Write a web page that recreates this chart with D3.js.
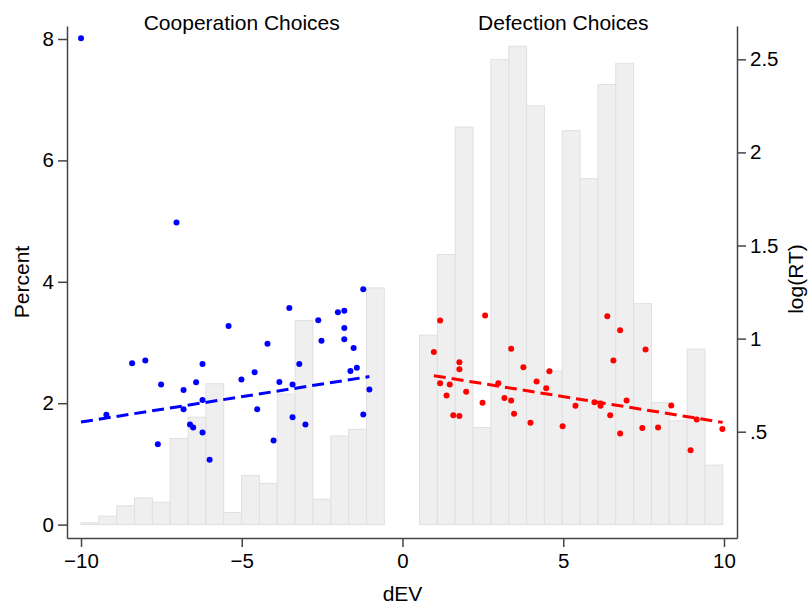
<!DOCTYPE html>
<html>
<head>
<meta charset="utf-8">
<script src="https://cdn.jsdelivr.net/npm/d3@7"></script>
<style>
  html, body { margin: 0; padding: 0; background: #fff; }
  svg { display: block; }
  text { font-family: "Liberation Sans", Arial, Helvetica, sans-serif; fill: #000; }
</style>
</head>
<body>
<svg id="chart" width="808" height="604"></svg>
<script>
// ---- data ----
const panelTitles = ["Cooperation Choices", "Defection Choices"];
const panelCenters = [-5, 5];

const binWidth = 0.555;
const coopBinStart = -10;
const defectBinStart = 0.529;
const coopPct = [0.03, 0.14, 0.31, 0.44, 0.37, 1.42, 1.77, 2.32, 0.20, 0.81, 0.68, 2.15, 3.36, 0.42, 1.46, 1.57, 3.90];
const defectPct = [3.12, 4.45, 6.55, 1.60, 7.66, 7.88, 6.90, 2.53, 6.49, 5.70, 7.25, 7.60, 3.64, 2.01, 1.71, 2.89, 0.98];

const coopDEV = [-10, -9.21, -8.41, -8.00, -7.51, -7.61, -7.03, -6.81, -6.81, -6.61, -6.51, -6.42, -6.22, -6.22, -6.22, -6.00, -5.41, -5.01, -4.60, -4.52, -4.20, -4.01, -3.83, -3.52, -3.42, -3.42, -3.21, -3.02, -2.62, -2.52, -2.01, -1.81, -1.81, -1.81, -1.52, -1.62, -1.42, -1.22, -1.22, -1.03];
const coopRT = [2.613, 0.591, 0.867, 0.882, 0.754, 0.432, 1.624, 0.724, 0.620, 0.538, 0.523, 0.765, 0.864, 0.670, 0.496, 0.349, 1.068, 0.781, 0.819, 0.620, 0.973, 0.453, 0.767, 1.165, 0.754, 0.577, 0.864, 0.538, 1.098, 0.989, 1.142, 1.149, 1.057, 0.996, 0.950, 0.826, 0.844, 1.265, 0.593, 0.726];

const defectDEV = [0.975, 1.17, 1.17, 1.47, 1.37, 1.58, 1.77, 1.77, 1.77, 1.98, 2.49, 2.57, 2.98, 3.17, 3.38, 3.38, 3.47, 3.76, 3.98, 4.17, 4.47, 4.57, 4.98, 5.38, 5.97, 6.16, 6.16, 6.37, 6.46, 6.56, 6.77, 6.77, 6.97, 7.46, 7.56, 7.95, 8.36, 8.96, 9.15, 9.95];
const defectRT = [0.928, 1.097, 0.760, 0.753, 0.695, 0.588, 0.584, 0.873, 0.835, 0.715, 0.656, 1.124, 0.760, 0.681, 0.946, 0.668, 0.597, 0.846, 0.548, 0.769, 0.733, 0.824, 0.529, 0.640, 0.658, 0.651, 0.640, 1.120, 0.588, 0.883, 1.045, 0.491, 0.667, 0.520, 0.941, 0.522, 0.641, 0.400, 0.566, 0.514];

const coopFitX = [-10, -1.03];
const coopFitY = [0.552, 0.796];
const defectFitX = [0.975, 9.96];
const defectFitY = [0.801, 0.550];

const xTicks = [-10, -5, 0, 5, 10];
const leftTicks = [0, 2, 4, 6, 8];
const rightTicks = [0.5, 1, 1.5, 2, 2.5];
const rightTickLabels = [".5", "1", "1.5", "2", "2.5"];

// ---- layout ----
const plotLeft = 67, plotRight = 737, plotTop = 26, plotBottom = 538;

const xBase = d3.scaleLinear().domain([-10, 10]).range([81, 724]);
const x = d3.scaleLinear().domain([xBase.invert(plotLeft), xBase.invert(plotRight)]).range([plotLeft, plotRight]);

const yLBase = d3.scaleLinear().domain([0, 8]).range([524.6, 39]);
const yL = d3.scaleLinear().domain([yLBase.invert(plotBottom), yLBase.invert(plotTop)]).range([plotBottom, plotTop]);

const yRBase = d3.scaleLinear().domain([0.5, 2.5]).range([431.7, 59.3]);
const yR = d3.scaleLinear().domain([yRBase.invert(plotBottom), yRBase.invert(plotTop)]).range([plotBottom, plotTop]);

const svg = d3.select("#chart");
const tickFont = 20.5;
const titleFont = 21;
const axisColor = "#444";

// histogram bars
function bars(values, start, cls) {
  svg.append("g").attr("class", cls)
    .selectAll("rect").data(values).join("rect")
    .attr("x", (d, i) => x(start + i * binWidth))
    .attr("width", (d, i) => x(start + (i + 1) * binWidth) - x(start + i * binWidth))
    .attr("y", d => yL(d))
    .attr("height", d => yL(0) - yL(d))
    .attr("fill", "#efefef")
    .attr("stroke", "#e0e0e0")
    .attr("stroke-width", 1);
}
bars(coopPct, coopBinStart, "coop-bars");
bars(defectPct, defectBinStart, "defect-bars");

// scatter points
function dots(xs, ys, color) {
  svg.append("g")
    .selectAll("circle").data(xs.map((v, i) => [v, ys[i]])).join("circle")
    .attr("cx", d => x(d[0]))
    .attr("cy", d => yR(d[1]))
    .attr("r", 3)
    .attr("fill", color);
}
dots(coopDEV, coopRT, "#0000ff");
dots(defectDEV, defectRT, "#ff0000");

// fit lines
const line = d3.line().x(d => x(d[0])).y(d => yR(d[1]));
function fit(xs, ys, color) {
  svg.append("path")
    .datum(xs.map((v, i) => [v, ys[i]]))
    .attr("d", line)
    .attr("fill", "none")
    .attr("stroke", color)
    .attr("stroke-width", 3)
    .attr("stroke-dasharray", "12,6");
}
fit(coopFitX, coopFitY, "#0000ff");
fit(defectFitX, defectFitY, "#ff0000");

// axes
function styleAxis(g) {
  g.selectAll("path.domain").attr("stroke", axisColor).attr("stroke-width", 1.5);
  g.selectAll(".tick line").attr("stroke", axisColor).attr("stroke-width", 1.5);
  g.selectAll(".tick text").attr("font-size", tickFont).attr("fill", "#000")
    .style("font-family", '"Liberation Sans", Arial, Helvetica, sans-serif');
}

svg.append("g")
  .attr("transform", `translate(0,${plotBottom})`)
  .call(d3.axisBottom(x).tickValues(xTicks).tickSize(9).tickSizeOuter(0).tickPadding(6))
  .call(styleAxis);

svg.append("g")
  .attr("transform", `translate(${plotLeft},0)`)
  .call(d3.axisLeft(yL).tickValues(leftTicks).tickSize(9).tickSizeOuter(0).tickPadding(4))
  .call(styleAxis);

svg.append("g")
  .attr("transform", `translate(${plotRight},0)`)
  .call(d3.axisRight(yR).tickValues(rightTicks).tickSize(9).tickSizeOuter(0).tickPadding(4)
    .tickFormat((d, i) => rightTickLabels[i]))
  .call(styleAxis);

// titles
svg.append("g").selectAll("text").data(panelTitles).join("text")
  .attr("x", (d, i) => x(panelCenters[i]))
  .attr("y", 30)
  .attr("text-anchor", "middle")
  .attr("font-size", titleFont)
  .text(d => d);

// axis titles
svg.append("text")
  .attr("x", x(0)).attr("y", 601)
  .attr("text-anchor", "middle")
  .attr("font-size", titleFont)
  .text("dEV");

svg.append("text")
  .attr("transform", "translate(29,282) rotate(-90)")
  .attr("text-anchor", "middle")
  .attr("font-size", titleFont)
  .text("Percent");

svg.append("text")
  .attr("transform", "translate(803,279) rotate(-90)")
  .attr("text-anchor", "middle")
  .attr("font-size", titleFont)
  .text("log(RT)");
</script>
</body>
</html>
